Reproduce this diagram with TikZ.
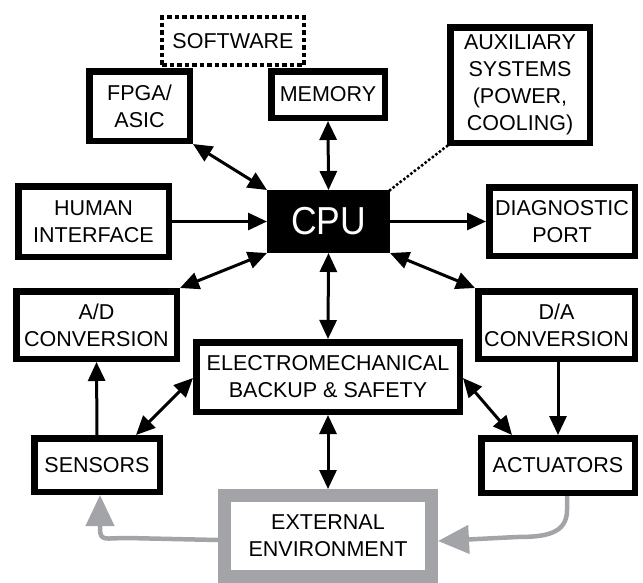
\documentclass[tikz,border=0pt]{standalone}
\usepackage{fontspec}
\setmainfont{Liberation Sans}
\newfontfamily\cpufont{Liberation Sans}[FakeStretch=0.91]
\usetikzlibrary{arrows.meta,calc}
\definecolor{envgray}{RGB}{163,164,168}
\begin{document}
\begin{tikzpicture}[x=1pt,y=-1pt,
  box/.style={draw=black,line width=6.5pt,fill=white,rectangle,align=center,inner sep=1pt,
    font=\fontsize{21.5}{27}\selectfont},
  link/.style={line width=3pt,{Triangle[length=19pt,width=17pt]}-{Triangle[length=19pt,width=17pt]}},
  oneway/.style={line width=3pt,-{Triangle[length=19pt,width=17pt]}},
  envlink/.style={draw=envgray,line width=4.5pt,-{Triangle[length=31pt,width=28pt]}}]
\useasboundingbox (0,0) rectangle (643,582);

% software layer (dotted frame behind FPGA and memory)
\node[box,line width=4.5pt,dash pattern=on 4.5pt off 3pt,minimum width=142pt,minimum height=48pt]
  (sw) at (233,41) {SOFTWARE};

\node[box,minimum width=100.5pt,minimum height=69.5pt] (fpga) at (139.5,106) {FPGA/\\ASIC};
\node[box,minimum width=113.5pt,minimum height=46.5pt] (mem) at (328,94.5) {MEMORY};
\node[box,minimum width=139.5pt,minimum height=115.5pt] (aux) at (520,85)
  {AUXILIARY\\SYSTEMS\\(POWER,\\COOLING)};

\node[rectangle,fill=black,text=white,minimum width=123pt,minimum height=63pt,inner sep=0pt,outer sep=0pt,
  font=\cpufont\fontsize{39}{42}\selectfont] (cpu) at (328.5,221.5) {CPU};

\node[box,minimum width=150.5pt,minimum height=70.5pt] (hmi) at (93.5,221.5) {HUMAN\\INTERFACE};
\node[box,minimum width=145.5pt,minimum height=68.5pt] (diag) at (562,221.5) {DIAGNOSTIC\\PORT};

\node[box,minimum width=160.5pt,minimum height=67.5pt] (adc) at (96.5,325) {A/D\\CONVERSION};
\node[box,minimum width=156.5pt,minimum height=67.5pt] (dac) at (556.5,325) {D/A\\CONVERSION};

\node[box,minimum width=263.5pt,minimum height=69.5pt] (emb) at (328,377)
  {ELECTROMECHANICAL\\BACKUP \& SAFETY};

\node[box,minimum width=125.5pt,minimum height=53.5pt] (sens) at (97,465) {SENSORS};
\node[box,minimum width=153.5pt,minimum height=54.5pt] (act) at (558,465.5) {ACTUATORS};

\node[box,draw=envgray,line width=13pt,minimum width=207pt,minimum height=81pt] (env) at (328,536)
  {EXTERNAL\\ENVIRONMENT};

% connections around the processor
\draw[link] (fpga.south east) -- (cpu.north west);
\draw[link] (mem.south) -- (cpu.north);
\draw[line width=3.5pt,line cap=round,dash pattern=on 0pt off 4.5pt] (aux.south west) -- (cpu.north east);
\draw[oneway] (hmi.east) -- (cpu.west);
\draw[oneway] (cpu.east) -- (diag.west);
\draw[link] (cpu.south west) -- (adc.north east);
\draw[link] (cpu.south east) -- (dac.north west);
\draw[link] (cpu.south) -- (emb.north);

% signal chain
\draw[oneway] (sens.north) -- (adc.south);
\draw[oneway] (act.north |- dac.south) -- (act.north);
\draw[link] ([yshift=-1pt]emb.west) -- ([xshift=-27pt]sens.north east);
\draw[link] ([yshift=-1pt]emb.east) -- ([xshift=34pt]act.north west);
\draw[link] (emb.south) -- (env.north);

% physical coupling through the environment
\coordinate (envR) at ([yshift=-5pt]env.east);
\coordinate (envL) at ([yshift=-4pt]env.west);
\coordinate (actOut) at ([xshift=9pt]act.south);
\coordinate (sensIn) at ([xshift=3pt]sens.south);
\draw[envlink] (actOut) -- ++(0,14) .. controls +(0,24) and +(28,0) .. ($(envR)+(79,-4)$) -- (envR);
\draw[envlink] (envL) -- ($(sensIn |- envL)+(27,-2)$) .. controls +(-22,0) and +(0,14) .. ($(sensIn)+(0,33)$) -- (sensIn);
\end{tikzpicture}
\end{document}
